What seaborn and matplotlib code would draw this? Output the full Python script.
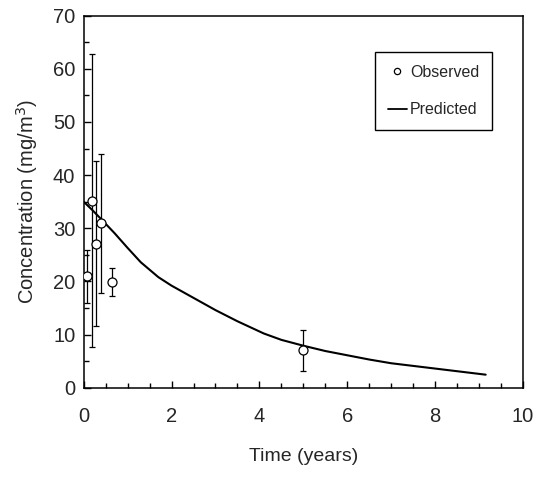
import numpy as np
import pandas as pd
import matplotlib
matplotlib.use('Agg')
import matplotlib.pyplot as plt
import seaborn as sns
from matplotlib.ticker import MultipleLocator
from matplotlib.lines import Line2D

# Observed concentrations (mean +/- error)
obs_time = [0.08, 0.18, 0.28, 0.39, 0.64, 4.99]
obs_conc = [21.0, 35.2, 27.1, 30.9, 19.9, 7.0]
obs_err = [5.0, 27.5, 15.5, 13.0, 2.6, 3.8]

# Predicted curve
pred_time = [0.0, 0.2, 0.4, 0.7, 1.0, 1.3, 1.7, 2.0, 2.5, 3.0, 3.5, 4.1,
             4.5, 5.0, 5.5, 6.0, 6.5, 7.0, 7.5, 8.0, 8.5, 9.15]
pred_conc = [35.0, 33.4, 31.7, 29.1, 26.3, 23.6, 20.8, 19.2, 16.9, 14.6, 12.5, 10.2,
             9.0, 7.9, 6.9, 6.1, 5.3, 4.6, 4.1, 3.6, 3.1, 2.45]

pred = pd.DataFrame({'Time': pred_time, 'Conc': pred_conc})

sns.set_style('ticks')
plt.rcParams['font.family'] = ['Liberation Sans', 'DejaVu Sans']

fig = plt.figure(figsize=(5.42, 4.8), dpi=100)
ax = fig.add_axes([0.1544, 0.1923, 0.8106, 0.7750])

sns.lineplot(data=pred, x='Time', y='Conc', ax=ax, color='black', lw=1.5,
             sort=False, estimator=None)
ax.errorbar(obs_time, obs_conc, yerr=obs_err, fmt='o', color='black', ms=6.5,
            mfc='white', mec='black', mew=0.9, elinewidth=0.9, capsize=2.5,
            capthick=0.9, zorder=3)

ax.set_xlim(0, 10)
ax.set_ylim(0, 70)
ax.xaxis.set_major_locator(MultipleLocator(2))
ax.xaxis.set_minor_locator(MultipleLocator(0.5))
ax.yaxis.set_major_locator(MultipleLocator(10))
ax.yaxis.set_minor_locator(MultipleLocator(5))
ax.tick_params(which='both', direction='in', top=False, right=False,
               labelsize=14.5, width=1, color='black')
ax.tick_params(which='major', length=5, pad=14)
ax.tick_params(axis='y', which='major', pad=6)
ax.tick_params(which='minor', length=3.5)
for s in ax.spines.values():
    s.set_linewidth(1.1)
    s.set_color('black')

ax.set_xlabel('Time (years)', fontsize=14, labelpad=16)
ax.set_ylabel('Concentration (mg/m$^3$)', fontsize=14.5, labelpad=9)

# legend: plain open circle and a short line
handles = [Line2D([], [], ls='none', marker='o', ms=4.5, mfc='white', mec='black', mew=0.9),
           Line2D([], [], color='black', lw=1.3)]
leg = ax.legend(handles, ['Observed', 'Predicted'],
                loc='upper right', bbox_to_anchor=(0.93, 0.9016), borderaxespad=0,
                fontsize=11.5, frameon=True, fancybox=False, edgecolor='black',
                framealpha=1, labelspacing=1.4, handlelength=1.2, handletextpad=0.2,
                borderpad=0.8)
leg.get_frame().set_linewidth(1.0)

fig.savefig('out.png', dpi=100)
